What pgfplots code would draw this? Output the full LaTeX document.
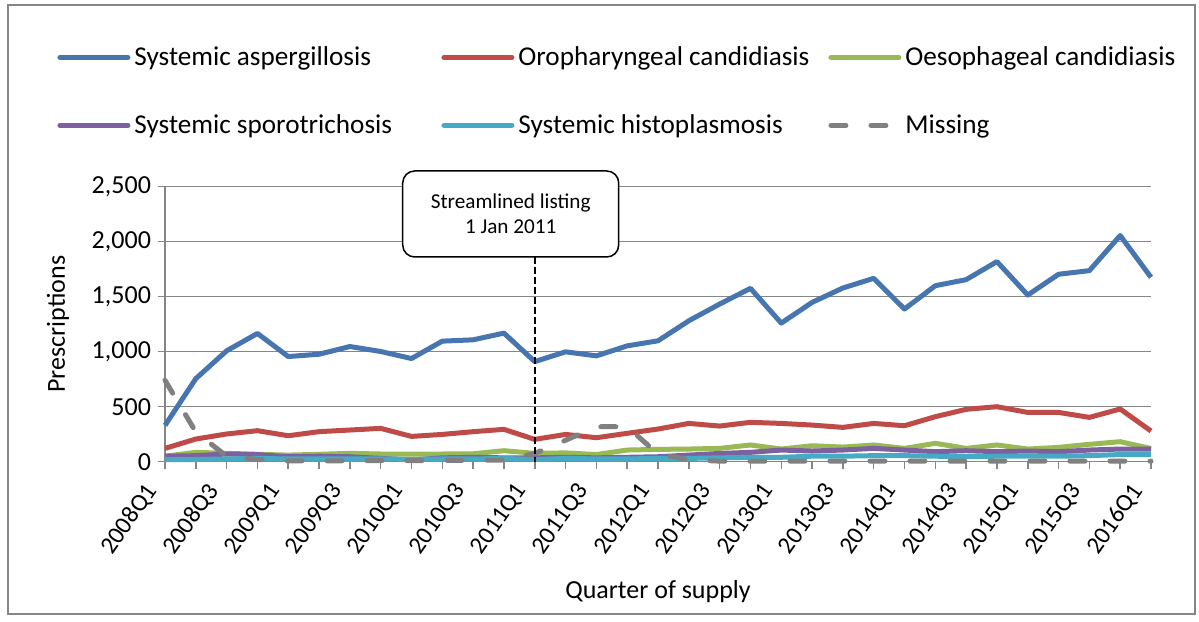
\documentclass[border=0pt]{standalone}
\usepackage{fontspec}
\setmainfont{Carlito}
\usepackage{pgfplots}
\usepackage{pgfplotstable}
\pgfplotsset{compat=1.18}

\definecolor{cAsp}{HTML}{4675B0}
\definecolor{cOro}{HTML}{BE4B48}
\definecolor{cOes}{HTML}{98B954}
\definecolor{cSpo}{HTML}{7D60A0}
\definecolor{cHis}{HTML}{46AAC5}
\definecolor{cMis}{HTML}{808080}
\definecolor{gridgray}{HTML}{868686}

% quarters 2008Q1 (0) .. 2016Q1 (32)
\pgfplotstableread{
x  asp   oro  oes  spo  his  mis
0  330   121  50   50   20   740
1  755   206  85   55   20   270
2  1008  252  76   70   25   50
3  1166  282  67   65   30   20
4  956   236  60   45   25   8
5  977   273  67   50   25   8
6  1047  288  76   45   25   8
7  1002  303  70   30   25   10
8  938   230  70   15   20   10
9  1096  248  70   35   25   12
10 1108  273  72   40   25   12
11 1169  294  100  35   30   15
12 910   203  76   35   20   75
13 999   248  80   40   30   195
14 962   218  65   35   25   318
15 1053  258  106  40   25   318
16 1099  297  112  45   30   70
17 1281  348  115  60   30   18
18 1433  324  121  75   35   5
19 1576  358  152  85   40   5
20 1260  348  115  106  40   5
21 1448  333  145  97   50   5
22 1579  312  133  106  50   5
23 1667  348  152  121  55   5
24 1388  327  121  106  55   5
25 1600  409  167  91   50   5
26 1655  476  121  100  45   5
27 1819  500  152  91   50   5
28 1515  448  115  97   50   5
29 1704  448  130  91   50   5
30 1737  403  158  106  55   5
31 2056  479  182  115  65   5
32 1676  279  120  115  65   5
}\quarters

\begin{document}
\begin{tikzpicture}
\useasboundingbox (-82.5pt,-79.65pt) rectangle (517pt,230.85pt);
\draw[gridgray, line width=0.75pt] (-78.5pt,-76.15pt) rectangle (515pt,228.35pt);
\begin{axis}[
  at={(0pt,0pt)}, anchor=south west,
  scale only axis, width=493pt, height=137.5pt,
  xmin=0, xmax=32, ymin=0, ymax=2500,
  clip=false,
  axis lines*=left,
  axis line style={gridgray, line width=0.75pt},
  ymajorgrids, grid style={gridgray, line width=0.75pt},
  tick align=outside, major tick length=3.5pt,
  tick style={gridgray, line width=0.75pt},
  ytick={0,500,1000,1500,2000,2500},
  scaled y ticks=false,
  /pgf/number format/1000 sep={,},
  /pgf/number format/assume math mode=true,
  xtick={0,...,32},
  xticklabels={2008Q1,,2008Q3,,2009Q1,,2009Q3,,2010Q1,,2010Q3,,2011Q1,,2011Q3,,2012Q1,,2012Q3,,2013Q1,,2013Q3,,2014Q1,,2014Q3,,2015Q1,,2015Q3,,2016Q1},
  yticklabel style={font=\fontsize{13}{15}\selectfont},
  xticklabel style={font=\fontsize{12.3}{14}\selectfont,
    rotate=55, anchor=east, inner xsep=11pt},
  xlabel={Quarter of supply},
  ylabel={Prescriptions},
  label style={font=\fontsize{13}{15}\selectfont},
  xlabel style={at={(axis description cs:0.5,-0.474)}, anchor=center},
  ylabel style={at={(axis description cs:-0.1085,0.5)}, anchor=center},
  legend columns=3,
  legend cell align=left,
  legend style={at={(axis description cs:-0.1095,1.526)}, anchor=north west,
    draw=none, fill=none, font=\fontsize{13.6}{16}\selectfont, inner sep=0pt,
    row sep=19pt, /tikz/every even column/.append style={column sep=0pt}},
  legend image code/.code={\draw[#1, line cap=round] (0pt,0pt) -- (34pt,0pt);},
  every axis plot/.append style={line width=2.5pt, line join=round, no markers},
]
\addplot[cAsp] table[x=x, y=asp] {\quarters};
\addlegendentry{\makebox[151.5pt][l]{Systemic aspergillosis}}
\addplot[cOro] table[x=x, y=oro] {\quarters};
\addlegendentry{\makebox[153pt][l]{Oropharyngeal candidiasis}}
\addplot[cOes] table[x=x, y=oes] {\quarters};
\addlegendentry{Oesophageal candidiasis}
\addplot[cSpo] table[x=x, y=spo] {\quarters};
\addlegendentry{\makebox[151.5pt][l]{Systemic sporotrichosis}}
\addplot[cHis] table[x=x, y=his] {\quarters};
\addlegendentry{\makebox[153pt][l]{Systemic histoplasmosis}}
\addplot[cMis, line cap=round, dash pattern=on 7.5pt off 12.5pt] table[x=x, y=mis] {\quarters};
\addlegendentry{Missing}

\draw[black, line width=0.75pt, dash pattern=on 3.3pt off 1.7pt] (axis cs:12,1861) -- (axis cs:12,0);
\node[draw=black, line width=0.75pt, rounded corners=6pt, fill=white,
  minimum width=108pt, minimum height=43pt, align=center,
  font=\fontsize{10.6}{12.5}\selectfont] at (axis cs:11.22,2252)
  {Streamlined listing\\1 Jan 2011};
\end{axis}
\end{tikzpicture}
\end{document}
